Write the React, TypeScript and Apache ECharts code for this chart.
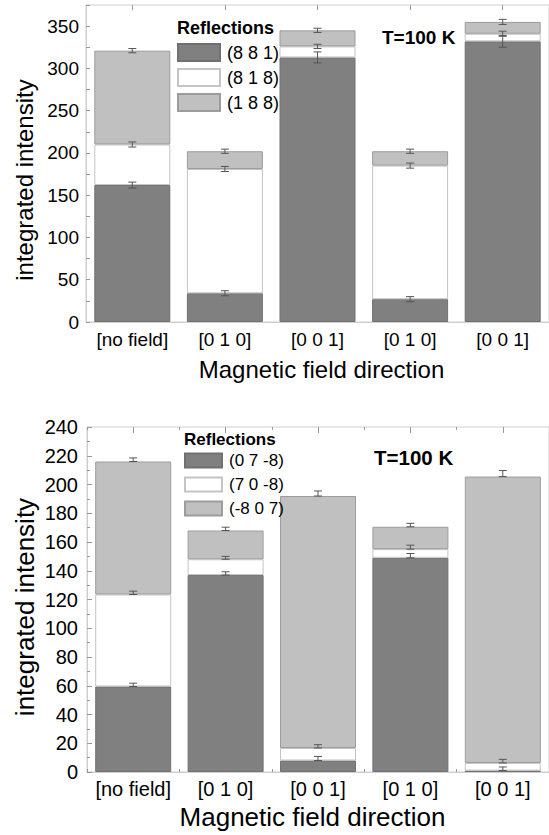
import React, { useEffect, useRef } from "react";
import * as echarts from "echarts";

const categories = ["[no field]", "[0 1 0]", "[0 0 1]", "[0 1 0]", "[0 0 1]"];

// Top panel (segment heights)
const topNames = ["(8 8 1)", "(8 1 8)", "(1 8 8)"];
const top881 = [162, 34, 313, 27, 332];
const top818 = [48, 147, 13, 158, 9];
const top188 = [111, 21, 19, 17, 14];
const topErr881 = [3.5, 3, 6.5, 3, 7];
const topErr818 = [3, 3, 2.5, 3, 3];
const topErr188 = [2.5, 2.5, 2.5, 2.5, 3];
const topYTicks = [0, 50, 100, 150, 200, 250, 300, 350];

// Bottom panel (segment heights)
const botNames = ["(0 7 -8)", "(7 0 -8)", "(-8 0 7)"];
const bot078 = [59.5, 137, 8, 149, 1];
const bot708 = [64, 11, 8.7, 6, 5.3];
const bot807 = [92.5, 20, 175.3, 15.6, 199.2];
const botErr078 = [2.3, 2.3, 2.8, 3, 2.5];
const botErr708 = [2.3, 2, 2.3, 2.8, 2.5];
const botErr807 = [2.5, 2.3, 3.5, 2.4, 4.2];

const FONT = "Liberation Sans, Arial, Helvetica, sans-serif";
const COLORS = ["#808080", "#ffffff", "#c0c0c0"];
const BORDERS = ["#707070", "#c4c4c4", "#9c9c9c"];

function cumulative(segs: number[][]) {
  const out: number[][] = [];
  let acc = segs[0].map(() => 0);
  for (const s of segs) {
    acc = acc.map((a, i) => a + s[i]);
    out.push(acc.slice());
  }
  return out;
}

function errData(segs: number[][], errs: number[][], full: boolean) {
  const tops = cumulative(segs);
  const data: number[][] = [];
  tops.forEach((t, k) => {
    t.forEach((v, i) => {
      const e = errs[k][i];
      data.push([i, full ? v - e : v, v + e]);
    });
  });
  return data;
}

const renderErr = (params: any, api: any) => {
  const x = api.value(0);
  const lo = api.coord([x, api.value(1)]);
  const hi = api.coord([x, api.value(2)]);
  const w = 4;
  const st = { stroke: "#555", lineWidth: 1 };
  return {
    type: "group",
    children: [
      { type: "line", shape: { x1: lo[0], y1: lo[1], x2: hi[0], y2: hi[1] }, style: st },
      { type: "line", shape: { x1: hi[0] - w, y1: hi[1], x2: hi[0] + w, y2: hi[1] }, style: st },
      { type: "line", shape: { x1: lo[0] - w, y1: lo[1], x2: lo[0] + w, y2: lo[1] }, style: st },
    ],
  };
};

export default function App() {
  const ref = useRef<HTMLDivElement>(null);
  useEffect(() => {
    if (!ref.current) return;
    const chart = echarts.init(ref.current, null, { renderer: "svg" });
    const topSegs = [top881, top818, top188];
    const botSegs = [bot078, bot708, bot807];

    const catAxis = (gridIndex: number, position: string, opts: any) => ({
      type: "category",
      gridIndex,
      position,
      data: categories,
      axisLine: { show: false },
      axisTick: { show: true, inside: true, alignWithLabel: true, interval: 0, length: 5, lineStyle: { color: "#999" } },
      axisLabel: { show: false },
      splitLine: { show: false },
      ...opts,
    });

    const bars: any[] = [];
    topSegs.forEach((s, k) =>
      bars.push({
        type: "bar",
        name: topNames[k],
        xAxisIndex: 0,
        yAxisIndex: 0,
        stack: "top",
        data: s,
        barWidth: 76,
        itemStyle: { color: COLORS[k], borderColor: BORDERS[k], borderWidth: 1 },
        z: 2,
      })
    );
    botSegs.forEach((s, k) =>
      bars.push({
        type: "bar",
        name: botNames[k],
        xAxisIndex: 2,
        yAxisIndex: 1,
        stack: "bot",
        data: s,
        barWidth: 76,
        itemStyle: { color: COLORS[k], borderColor: BORDERS[k], borderWidth: 1 },
        z: 2,
      })
    );

    chart.setOption({
      animation: false,
      textStyle: { fontFamily: FONT },
      grid: [
        { left: 86, top: 5, width: 472, height: 317, show: true, borderColor: "#cfcfcf", borderWidth: 1 },
        { left: 87, top: 427, width: 472.5, height: 345, show: true, borderColor: "#cfcfcf", borderWidth: 1 },
      ],
      xAxis: [
        catAxis(0, "bottom", {
          axisLine: { show: true, lineStyle: { color: "#cfcfcf" } },
          axisLabel: { show: true, interval: 0, hideOverlap: false, fontSize: 19, color: "#000", margin: 8, fontFamily: FONT },
        }),
        catAxis(0, "top", {}),
        catAxis(1, "bottom", {
          axisLine: { show: true, lineStyle: { color: "#cfcfcf" } },
          axisTick: { show: true, inside: true, alignWithLabel: true, interval: 0, length: 6, lineStyle: { color: "#999" } },
          axisLabel: { show: true, interval: 0, hideOverlap: false, fontSize: 20, color: "#000", margin: 7, fontFamily: FONT },
        }),
        catAxis(1, "top", {
          axisTick: { show: true, inside: true, alignWithLabel: true, interval: 0, length: 6, lineStyle: { color: "#999" } },
        }),
        catAxis(1, "bottom", {
          axisTick: { show: true, inside: true, alignWithLabel: false, interval: 0, length: 3, lineStyle: { color: "#999" } },
        }),
        catAxis(1, "top", {
          axisTick: { show: true, inside: true, alignWithLabel: false, interval: 0, length: 3, lineStyle: { color: "#999" } },
        }),
      ],
      yAxis: [
        {
          type: "value",
          gridIndex: 0,
          min: 0,
          max: 375,
          interval: 25,
          axisLine: { show: true, lineStyle: { color: "#cfcfcf" } },
          axisTick: { show: true, inside: true, length: 4, lineStyle: { color: "#999" } },
          axisLabel: {
            fontSize: 19,
            color: "#000",
            margin: 7,
            fontFamily: FONT,
            formatter: (v: number) => (topYTicks.indexOf(v) >= 0 ? String(v) : ""),
          },
          splitLine: { show: false },
        },
        {
          type: "value",
          gridIndex: 1,
          min: 0,
          max: 240,
          interval: 20,
          axisLine: { show: true, lineStyle: { color: "#cfcfcf" } },
          axisTick: { show: true, inside: true, length: 5, lineStyle: { color: "#999" } },
          minorTick: { show: true, splitNumber: 2, length: 3, lineStyle: { color: "#999" } },
          axisLabel: { fontSize: 20, color: "#000", margin: 9, fontFamily: FONT },
          splitLine: { show: false },
        },
      ],
      legend: [
        {
          data: topNames,
          orient: "vertical",
          left: 177,
          top: 43,
          itemWidth: 42,
          itemHeight: 17,
          itemGap: 6,
          icon: "rect",
          selectedMode: false,
          padding: 0,
          textStyle: { fontSize: 18, color: "#000", fontFamily: FONT, lineHeight: 17, padding: [0, 0, 0, 2] },
        },
        {
          data: botNames,
          orient: "vertical",
          left: 184,
          top: 452,
          itemWidth: 37,
          itemHeight: 14,
          itemGap: 7,
          icon: "rect",
          selectedMode: false,
          padding: 0,
          textStyle: { fontSize: 17, color: "#000", fontFamily: FONT, lineHeight: 14, padding: [0, 0, 0, 2] },
        },
      ],
      graphic: [
        {
          type: "text",
          x: 24,
          y: 180,
          rotation: Math.PI / 2,
          style: { text: "integrated intensity", fontSize: 24, fontFamily: FONT, fill: "#000", align: "center", verticalAlign: "middle" },
        },
        {
          type: "text",
          x: 321.5,
          y: 369,
          style: { text: "Magnetic field direction", fontSize: 24, fontFamily: FONT, fill: "#000", align: "center", verticalAlign: "middle" },
        },
        {
          type: "text",
          x: 177,
          y: 28,
          style: { text: "Reflections", fontSize: 18, fontWeight: "bold", fontFamily: FONT, fill: "#000", align: "left", verticalAlign: "middle" },
        },
        {
          type: "text",
          x: 382,
          y: 37,
          style: { text: "T=100 K", fontSize: 19, fontWeight: "bold", fontFamily: FONT, fill: "#000", align: "left", verticalAlign: "middle" },
        },
        {
          type: "text",
          x: 25,
          y: 607,
          rotation: Math.PI / 2,
          style: { text: "integrated intensity", fontSize: 26, fontFamily: FONT, fill: "#000", align: "center", verticalAlign: "middle" },
        },
        {
          type: "text",
          x: 312.5,
          y: 817,
          style: { text: "Magnetic field direction", fontSize: 26, fontFamily: FONT, fill: "#000", align: "center", verticalAlign: "middle" },
        },
        {
          type: "text",
          x: 184,
          y: 439,
          style: { text: "Reflections", fontSize: 17, fontWeight: "bold", fontFamily: FONT, fill: "#000", align: "left", verticalAlign: "middle" },
        },
        {
          type: "text",
          x: 374,
          y: 457,
          style: { text: "T=100 K", fontSize: 20.5, fontWeight: "bold", fontFamily: FONT, fill: "#000", align: "left", verticalAlign: "middle" },
        },
      ],
      series: [
        ...bars,
        {
          type: "custom",
          name: "errTop",
          xAxisIndex: 0,
          yAxisIndex: 0,
          renderItem: renderErr,
          encode: { x: 0, y: [1, 2] },
          data: errData(topSegs, [topErr881, topErr818, topErr188], true),
          z: 5,
          silent: true,
        },
        {
          type: "custom",
          name: "errBot",
          xAxisIndex: 2,
          yAxisIndex: 1,
          renderItem: renderErr,
          encode: { x: 0, y: [1, 2] },
          data: errData(botSegs, [botErr078, botErr708, botErr807], false),
          z: 5,
          silent: true,
        },
      ],
    });
    return () => chart.dispose();
  }, []);
  return <div ref={ref} style={{ position: "absolute", left: 0, top: 0, width: 549, height: 835 }} />;
}
